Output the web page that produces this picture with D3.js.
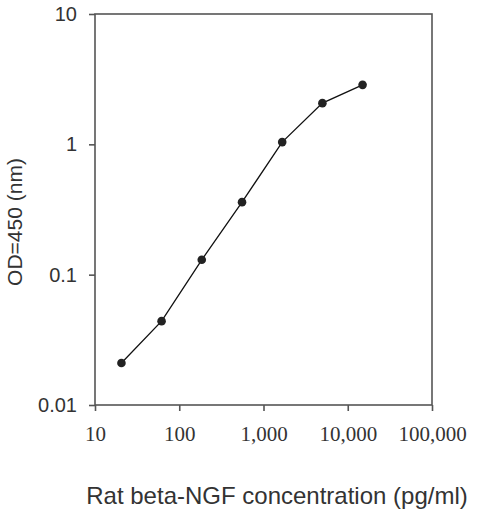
<!DOCTYPE html>
<html>
<head>
<meta charset="utf-8">
<script src="https://cdn.jsdelivr.net/npm/d3@7"></script>
<style>
  body { margin: 0; background: #fff; }
</style>
</head>
<body>
<div id="chart"></div>
<script>
// data: 3-fold dilution standard curve
var concentration = [20.6, 61.7, 185, 556, 1667, 5000, 15000];
var od450 = [0.021, 0.044, 0.13, 0.36, 1.04, 2.07, 2.86];
var xTicks = [10, 100, 1000, 10000, 100000];
var yTicks = [0.01, 0.1, 1, 10];

var W = 500, H = 518;
var margin = {top: 14, right: 68, bottom: 113, left: 95};
var width = W - margin.left - margin.right,
    height = H - margin.top - margin.bottom;

var svg = d3.select("#chart").append("svg")
    .attr("width", W).attr("height", H);

var g = svg.append("g")
    .attr("transform", "translate(" + margin.left + "," + margin.top + ")");

var x = d3.scaleLog().domain([10, 100000]).range([0, width]);
var y = d3.scaleLog().domain([0.01, 10]).range([height, 0]);

var axisColor = "#555";

// x axis
var xAxis = g.append("g")
    .attr("transform", "translate(0," + height + ")")
    .call(d3.axisBottom(x).tickValues(xTicks).tickSize(6).tickPadding(15)
        .tickFormat(d3.format(",")));
xAxis.selectAll("text")
    .style("font-family", "'Liberation Serif', 'Times New Roman', serif")
    .style("font-size", "21px").attr("fill", "#333");

// y axis
var yAxis = g.append("g")
    .call(d3.axisLeft(y).tickValues(yTicks).tickSize(6).tickPadding(12)
        .tickFormat(function(d) { return d3.format("")(d); }));
yAxis.selectAll("text")
    .style("font-family", "'Liberation Sans', Arial, sans-serif")
    .style("font-size", "20px").attr("fill", "#333");

g.selectAll(".domain").attr("stroke", axisColor).attr("stroke-width", 1.6)
    .attr("d", null);
g.selectAll(".tick line").attr("stroke", axisColor).attr("stroke-width", 1.6);

// frame
g.append("rect")
    .attr("x", 0).attr("y", 0)
    .attr("width", width).attr("height", height)
    .attr("fill", "none").attr("stroke", axisColor).attr("stroke-width", 1.6);

var pts = concentration.map(function(c, i) { return [c, od450[i]]; });

var line = d3.line()
    .x(function(d) { return x(d[0]); })
    .y(function(d) { return y(d[1]); });

g.append("path").datum(pts)
    .attr("d", line)
    .attr("fill", "none")
    .attr("stroke", "#111")
    .attr("stroke-width", 1.3);

g.selectAll("circle.pt").data(pts).enter().append("circle")
    .attr("class", "pt")
    .attr("cx", function(d) { return x(d[0]); })
    .attr("cy", function(d) { return y(d[1]); })
    .attr("r", 4.3)
    .attr("fill", "#222");

// axis titles
svg.append("text")
    .attr("x", 277).attr("y", 504)
    .attr("text-anchor", "middle")
    .style("font-family", "'Liberation Sans', Arial, sans-serif")
    .style("font-size", "24px").attr("fill", "#333")
    .text("Rat beta-NGF concentration (pg/ml)");

svg.append("text")
    .attr("transform", "translate(22,222) rotate(-90)")
    .attr("text-anchor", "middle")
    .style("font-family", "'Liberation Sans', Arial, sans-serif")
    .style("font-size", "21px").attr("fill", "#333")
    .text("OD=450 (nm)");
</script>
</body>
</html>
